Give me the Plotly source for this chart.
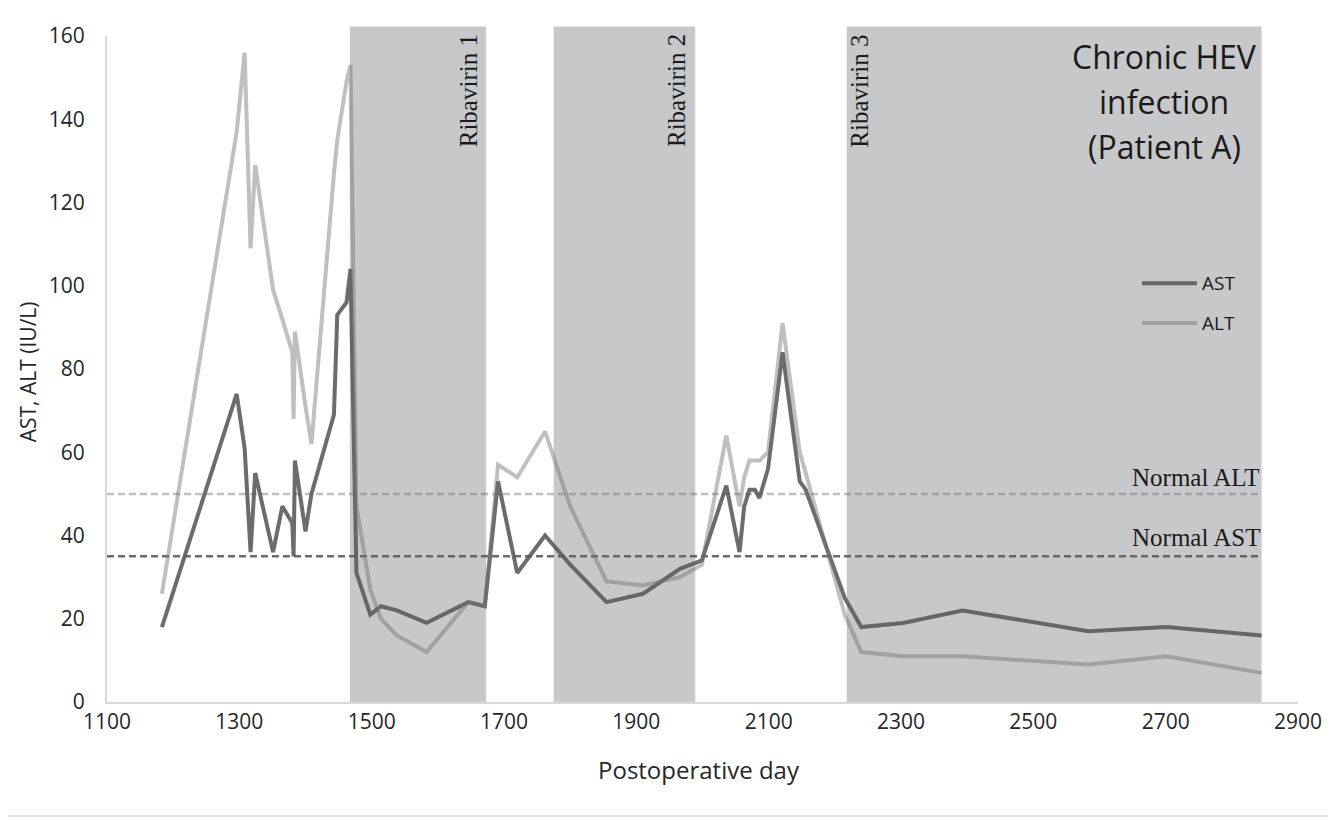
import plotly.graph_objects as go

# ---- data ----
days = [1183, 1296, 1308, 1317, 1324, 1351, 1365, 1380, 1382, 1384, 1400, 1409,
        1443, 1448, 1462, 1468, 1477, 1498, 1514, 1538, 1583, 1646, 1671, 1691,
        1720, 1762, 1800, 1855, 1910, 1966, 1999, 2036, 2056, 2063, 2071, 2079,
        2086, 2099, 2121, 2147, 2156, 2215, 2240, 2303, 2393, 2583, 2701, 2845]
ast = [18, 74, 61, 36, 55, 36, 47, 43, 35, 58, 41, 50,
       69, 93, 96, 104, 31, 21, 23, 22, 19, 24, 23, 53,
       31, 40, 33, 24, 26, 32, 34, 52, 36, 47, 51, 51,
       49, 56, 84, 53, 51, 25, 18, 19, 22, 17, 18, 16]
alt = [26, 137, 156, 109, 129, 99, 92, 84, 68, 89, 71, 62,
       127, 135, 149, 153, 47, 27, 20, 16, 12, 24, 23, 57,
       54, 65, 47, 29, 28, 30, 33, 64, 47, 54, 58, 58,
       58, 60, 91, 60, 55, 21, 12, 11, 11, 9, 11, 7]

x_ticks = list(range(1100, 3000, 200))
y_ticks = list(range(0, 180, 20))

ribavirin_start = [1467, 1775, 2218]
ribavirin_end = [1673, 1989, 2845]
ribavirin_labels = ["Ribavirin 1", "Ribavirin 2", "Ribavirin 3"]
ribavirin_label_x = [1646, 1960, 2236]

normal_alt = 50
normal_ast = 35
normal_x = [1100, 2845]

# ---- styles ----
AST_COLOR = "rgba(88,88,88,0.88)"
ALT_COLOR = "rgba(115,115,115,0.46)"
SHADE = "#c7c8ca"
AXIS_LINE = "#d9d9d9"
TXT = "#262626"
SANS = "Open Sans"
SERIF = "Liberation Serif"

# page body has an 8px margin; figure coordinates = screen coordinates - 8
OFF = 8
W, H = 1336 - OFF, 820 - OFF
PLOT_L, PLOT_R, PLOT_T, PLOT_B = 107, 1298, 35.5, 702   # screen px
ML = PLOT_L - OFF
MT = PLOT_T - OFF
MR = W - (PLOT_R - OFF)
MB = H - (PLOT_B - OFF)
PW = PLOT_R - PLOT_L
PH = PLOT_B - PLOT_T


def px_x(p):
    return (p - PLOT_L) / PW


def px_y(p):
    return (PLOT_B - p) / PH


fig = go.Figure()

fig.add_trace(go.Scatter(x=days, y=ast, mode="lines", name="AST",
                         line=dict(color=AST_COLOR, width=4), showlegend=False))
fig.add_trace(go.Scatter(x=days, y=alt, mode="lines", name="ALT",
                         line=dict(color=ALT_COLOR, width=4), showlegend=False))

shapes = []
for s, e in zip(ribavirin_start, ribavirin_end):
    shapes.append(dict(type="rect", xref="x", yref="paper", x0=s, x1=e,
                       y0=0, y1=px_y(26), fillcolor=SHADE, line=dict(width=0),
                       layer="below"))
# normal lines
shapes.append(dict(type="line", xref="x", yref="y", x0=normal_x[0], x1=normal_x[1],
                   y0=normal_alt, y1=normal_alt,
                   line=dict(color=ALT_COLOR, width=2.5, dash="7px,4px"), layer="below"))
shapes.append(dict(type="line", xref="x", yref="y", x0=normal_x[0], x1=normal_x[1],
                   y0=normal_ast, y1=normal_ast,
                   line=dict(color=AST_COLOR, width=2.5, dash="7px,4px"), layer="below"))
# outer chart border
shapes.append(dict(type="rect", xref="paper", yref="paper",
                   x0=px_x(3), x1=px_x(1333), y0=px_y(816), y1=px_y(3),
                   line=dict(color="#d9d9d9", width=1.5), fillcolor="rgba(0,0,0,0)",
                   layer="below"))
# legend samples
for name, col, yy in [("AST", AST_COLOR, 283), ("ALT", ALT_COLOR, 322.7)]:
    shapes.append(dict(type="line", xref="paper", yref="paper",
                       x0=px_x(1142), x1=px_x(1197), y0=px_y(yy), y1=px_y(yy),
                       line=dict(color=col, width=4), layer="above"))

annotations = []
for lab, lx in zip(ribavirin_labels, ribavirin_label_x):
    annotations.append(dict(text=lab, x=lx, xref="x", y=px_y(32), yref="paper",
                            textangle=-90, xanchor="center", yanchor="top",
                            showarrow=False, font=dict(family=SERIF, size=25, color="#1a1a1a")))
annotations.append(dict(text="Normal ALT", x=normal_x[1], xref="x", y=normal_alt, yref="y",
                        xanchor="right", yanchor="bottom", showarrow=False, yshift=1,
                        font=dict(family=SERIF, size=25, color="#1a1a1a")))
annotations.append(dict(text="Normal AST", x=normal_x[1], xref="x", y=normal_ast, yref="y",
                        xanchor="right", yanchor="bottom", showarrow=False, yshift=3,
                        font=dict(family=SERIF, size=25, color="#1a1a1a")))
for line_txt, yy in [("Chronic HEV", 56.7), ("infection", 101.7), ("(Patient A)", 146.7)]:
    annotations.append(dict(text=line_txt, x=px_x(1164), xref="paper", y=px_y(yy - 1), yref="paper",
                            xanchor="center", yanchor="middle", showarrow=False,
                            font=dict(family=SANS, size=32, color="#1a1a1a")))
for name, yy in [("AST", 283), ("ALT", 322.7)]:
    annotations.append(dict(text=name, x=px_x(1200), xref="paper", y=px_y(yy), yref="paper",
                            xanchor="left", yanchor="middle", showarrow=False,
                            font=dict(family=SANS, size=19, color="#1a1a1a")))
# axis titles
annotations.append(dict(text="Postoperative day", x=px_x(699), xref="paper", y=px_y(770),
                        yref="paper", xanchor="center", yanchor="middle", showarrow=False,
                        font=dict(family=SANS, size=24, color=TXT)))
annotations.append(dict(text="AST, ALT (IU/L)", x=px_x(28), xref="paper", y=px_y(372),
                        yref="paper", xanchor="center", yanchor="middle", showarrow=False,
                        textangle=-90, font=dict(family=SANS, size=21, color=TXT)))

fig.update_layout(
    width=W, height=H,
    margin=dict(l=ML, r=MR, t=MT, b=MB, autoexpand=False),
    paper_bgcolor="white", plot_bgcolor="white",
    shapes=shapes, annotations=annotations,
    showlegend=False,
    xaxis=dict(range=[1100, 2900], tickvals=x_ticks, showgrid=False, zeroline=False,
               showline=True, linecolor=AXIS_LINE, linewidth=2, ticks="",
               tickfont=dict(family=SANS, size=21, color=TXT), ticklabelstandoff=0),
    yaxis=dict(range=[0, 160], tickvals=y_ticks, showgrid=False, zeroline=False,
               showline=True, linecolor=AXIS_LINE, linewidth=2, ticks="",
               tickfont=dict(family=SANS, size=21, color=TXT), ticklabelstandoff=16),
)

fig.write_html("out.html")
